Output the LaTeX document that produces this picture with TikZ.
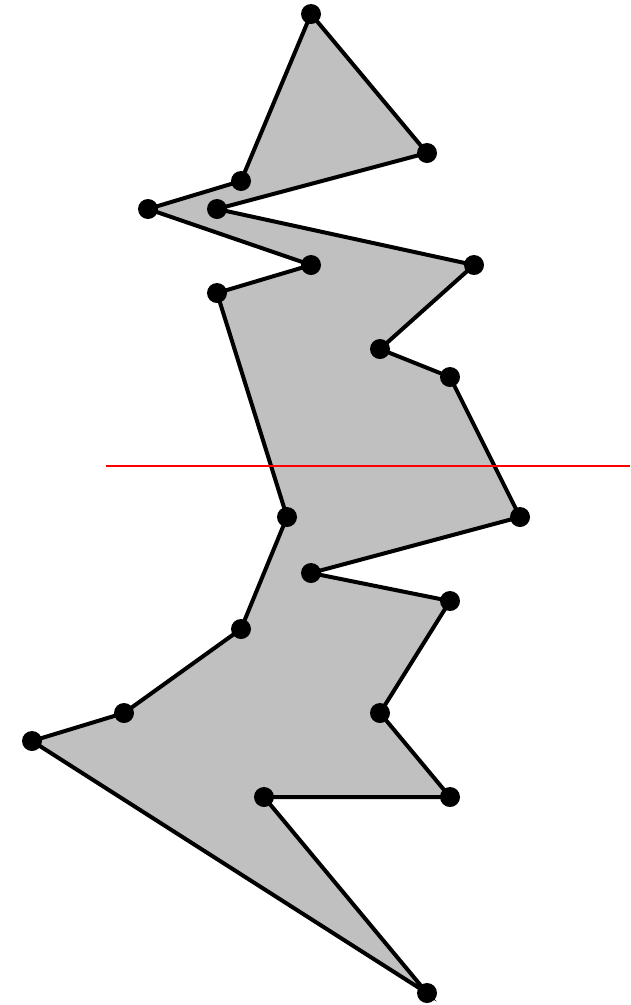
\documentclass[tikz,border=0pt]{standalone}
\definecolor{polyfill}{RGB}{192,192,192}
\tikzset{
  vtx/.style={circle,fill=black,inner sep=0pt,minimum size=20pt},
  poly/.style={draw=black,line width=4pt,fill=polyfill,line join=miter},
  cutline/.style={draw=red,line width=2pt}
}
\begin{document}
\begin{tikzpicture}[x=1pt,y=-1pt]
\useasboundingbox (0,0) rectangle (630,1005);
\coordinate (p1) at (311,14);
\coordinate (p2) at (427,153);
\coordinate (p3) at (217,209);
\coordinate (p4) at (474,265);
\coordinate (p5) at (380,349);
\coordinate (p6) at (450,377);
\coordinate (p7) at (520,517);
\coordinate (p8) at (311,573);
\coordinate (p9) at (450,601);
\coordinate (p10) at (380,713);
\coordinate (p11) at (450,797);
\coordinate (p12) at (264,797);
\coordinate (p13) at (427,993);
\coordinate (p14) at (32,741);
\coordinate (p15) at (124,713);
\coordinate (p16) at (241,629);
\coordinate (p17) at (287,517);
\coordinate (p18) at (217,293);
\coordinate (p19) at (311,265);
\coordinate (p20) at (148,209);
\coordinate (p21) at (241,181);
\path[poly] (p1) -- (p2) -- (p3) -- (p4) -- (p5) -- (p6) -- (p7) -- (p8) -- (p9) -- (p10) -- (p11) -- (p12) -- (p13) -- (p14) -- (p15) -- (p16) -- (p17) -- (p18) -- (p19) -- (p20) -- (p21) -- cycle;
\coordinate (l1) at (106,466);
\coordinate (l2) at (630,466);
\draw[cutline] (l1) -- (l2);
\foreach \i in {1,...,21} \node[vtx] (v\i) at (p\i) {};
\end{tikzpicture}
\end{document}
